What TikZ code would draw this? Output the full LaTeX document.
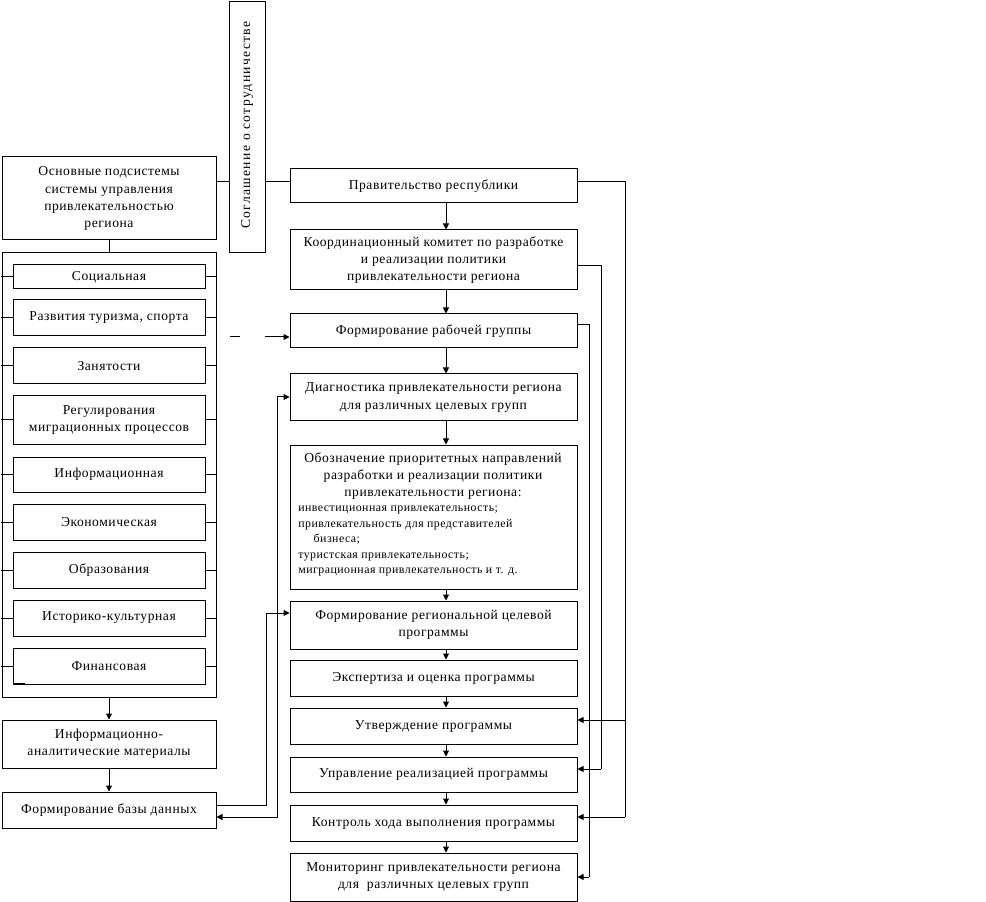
\documentclass[tikz,border=0pt]{standalone}
\usepackage{fontspec}
\setmainfont{Liberation Serif}[LetterSpace=4]
\usetikzlibrary{arrows.meta}
\newcommand{\fs}{\fontsize{10.2}{12.8}\selectfont}
\newcommand{\fsm}{\fontsize{8.9}{11.6}\selectfont}
\newcommand{\bx}[6]{\node[box, minimum width={(#4-#2)*0.75pt}, minimum height={(#5-#3)*0.75pt}] (#1) at ({(#2+#4)/2},{(#3+#5)/2}) {#6};}
\tikzset{
  box/.style={draw, line width=0.75pt, inner sep=1pt, align=center, font=\fs},
  ln/.style={line width=0.75pt},
  arr/.style={line width=0.75pt, -{Triangle[length=4.5pt,width=4.5pt]}},
  darr/.style={line width=0.75pt, {Triangle[length=4.5pt,width=4.5pt]}-{Triangle[length=4.5pt,width=4.5pt]}}
}
\begin{document}
\begin{tikzpicture}[x=0.75pt,y=-0.75pt]
\useasboundingbox (0,0) rectangle (986,902);
% left column
\bx{hdr}{2}{157}{216}{240}{Основные подсистемы\\системы управления\\привлекательностью\\региона}
\bx{cont}{2}{253}{216}{697}{}
\bx{s1}{13}{265}{205}{289}{Социальная}
\bx{s2}{13}{300}{205}{336}{Развития туризма, спорта}
\bx{s3}{13}{348}{205}{384}{Занятости}
\bx{s4}{13}{396}{205}{444}{Регулирования\\миграционных процессов}
\bx{s5}{13}{457}{205}{492}{Информационная}
\bx{s6}{13}{504}{205}{540}{Экономическая}
\bx{s7}{13}{552}{205}{588}{Образования}
\bx{s8}{13}{600}{205}{636}{Историко-культурная}
\bx{s9}{13}{648}{205}{684}{Финансовая}
\bx{info}{2}{720}{216}{768}{Информационно-\\аналитические материалы}
\bx{db}{2}{792}{216}{828}{Формирование базы данных}
% agreement
\bx{sogl}{229}{2}{265}{253}{}
\node[font=\fs\addfontfeatures{LetterSpace=10}, rotate=90] (sogltxt) at (247,125) {Соглашение о сотрудничестве};
% right column
\bx{gov}{290}{169}{577}{203}{Правительство республики}
\bx{koord}{290}{230}{577}{290}{Координационный комитет по разработке\\и реализации политики\\привлекательности региона}
\bx{wg}{290}{314}{577}{348}{Формирование рабочей группы}
\bx{diag}{290}{374}{577}{421}{Диагностика привлекательности региона\\для различных целевых групп}
\bx{obozn}{290}{445}{577}{589}{}
\node[font=\fs, align=center, inner sep=0pt] (oboznt) at (433,476) {Обозначение приоритетных направлений\\разработки и реализации политики\\привлекательности региона:};
\node[font=\fsm, align=left, inner sep=0pt, anchor=north west] (obozl) at (298,506) {инвестиционная привлекательность;\\привлекательность для представителей\\\hspace{1.3em}бизнеса;\\туристская привлекательность;\\миграционная привлекательность и т. д.};
\bx{reg}{290}{601}{577}{649}{Формирование региональной целевой\\программы}
\bx{exp}{290}{660}{577}{696}{Экспертиза и оценка программы}
\bx{utv}{290}{708}{577}{744}{Утверждение программы}
\bx{upr}{290}{757}{577}{792}{Управление реализацией программы}
\bx{kontr}{290}{805}{577}{841}{Контроль хода выполнения программы}
\bx{mon}{290}{853}{577}{901}{Мониторинг привлекательности региона\\для~ различных целевых групп}
% left column connectors
\draw[ln] (hdr.south) -- (cont.north);
\foreach \s in {s1,s2,s3,s4,s5,s6,s7,s8,s9}{
  \draw[ln] (cont.west |- \s.west) -- (\s.west);
  \draw[ln] (\s.east) -- (cont.east |- \s.east);
}
\draw[line width=1.6pt] (13,684) -- (25,684);
\draw[arr] (cont.south) -- (info.north);
\draw[arr] (info.south) -- (db.north);
% agreement connectors
\coordinate (ly) at (0,182);
\draw[ln] (hdr.east |- ly) -- (sogl.west |- ly);
\draw[ln] (sogl.east |- ly) -- (gov.west |- ly);
% broken line to working group
\coordinate (bl1) at (230,337);
\coordinate (bl2) at (240,337);
\coordinate (bl3) at (265,337);
\draw[ln] (bl1) -- (bl2);
\draw[arr] (bl3) -- (wg.west |- bl3);
% right column vertical arrows
\coordinate (ax) at (446,0);
\foreach \a/\b in {gov/koord,koord/wg,wg/diag,diag/obozn,obozn/reg,reg/exp,exp/utv,utv/upr,upr/kontr,kontr/mon}{
  \draw[arr] (\a.south -| ax) -- (\b.north -| ax);
}
% right feedback lines
\coordinate (g1) at (625,182);
\coordinate (g2) at (625,720);
\coordinate (g3) at (625,817);
\draw[ln] (gov.east |- g1) -- (g1) -- (g3);
\draw[arr] (g2) -- (utv.east |- g2);
\draw[arr] (g3) -- (kontr.east |- g3);
\coordinate (k1) at (601,266);
\coordinate (k2) at (601,769);
\draw[ln] (koord.east |- k1) -- (k1) -- (k2);
\draw[arr] (k2) -- (upr.east |- k2);
\coordinate (w1) at (589,325);
\coordinate (w2) at (589,877);
\draw[ln] (wg.east |- w1) -- (w1) -- (w2);
\draw[arr] (w2) -- (mon.east |- w2);
% left feedback lines
\coordinate (d1) at (266,805);
\coordinate (d2) at (266,613);
\draw[ln] (db.east |- d1) -- (d1) -- (d2);
\draw[arr] (d2) -- (reg.west |- d2);
\coordinate (e1) at (277,817);
\coordinate (e2) at (277,397);
\draw[darr] (db.east |- e1) -- (e1) -- (e2) -- (diag.west |- e2);
\end{tikzpicture}
\end{document}
